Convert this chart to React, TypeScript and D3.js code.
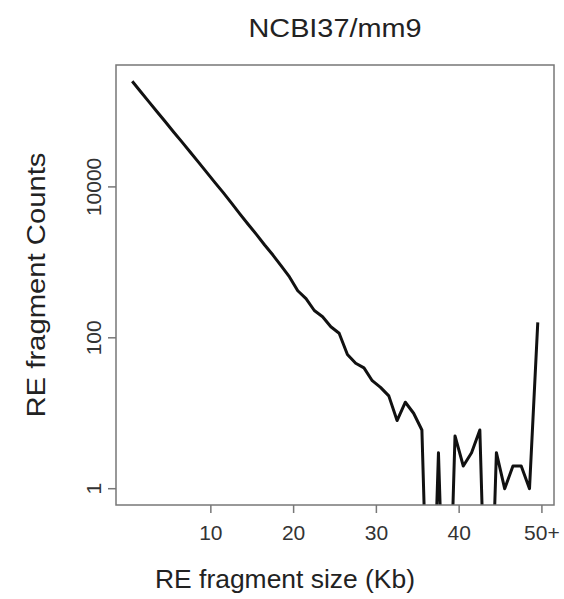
import React from 'react';
import * as d3 from 'd3';

// bin midpoints (Kb); last bin is the "50+" overflow
const sizes = d3.range(50).map(k => k + 0.5);
const counts = [
    251000, 184000, 135000, 99000, 73000, 53500, 39500, 29000, 21300, 15600,
    11400, 8400, 6100, 4400, 3200, 2350, 1700, 1250, 900, 640,
    420, 330, 230, 190, 140, 115, 60, 46, 40, 27,
    22, 17, 8, 14, 10, 6, 0, 3, 0, 5,
    2, 3, 6, 0, 3, 1, 2, 2, 1, 160,
];
const xTicks = [10, 20, 30, 40, 50];
const xTickLabels = ['10', '20', '30', '40', '50+'];
const yTicks = [1, 100, 10000];

const title = 'NCBI37/mm9';
const xTitle = 'RE fragment size (Kb)';
const yTitle = 'RE fragment Counts';

const width = 564;
const height = 599;
const box = { left: 116, right: 554, top: 65, bottom: 505 };
const font = '"Liberation Sans", Arial, Helvetica, sans-serif';

function App() {
    // R style 4% padding on both axes
    const [x0, x1] = d3.extent(sizes);
    const xPad = (x1 - x0) * 0.04;
    const xScale = d3.scaleLinear()
        .domain([x0 - xPad, x1 + xPad])
        .range([box.left, box.right]);

    const positive = counts.filter(c => c > 0);
    const lo = Math.log10(d3.min(positive));
    const hi = Math.log10(d3.max(positive));
    const yPad = (hi - lo) * 0.04;
    const yScale = d3.scaleLog()
        .domain([Math.pow(10, lo - yPad), Math.pow(10, hi + yPad)])
        .range([box.bottom, box.top]);

    // zero counts fall off the bottom of the log axis and get clipped
    const line = d3.line()
        .x((d, i) => xScale(sizes[i]))
        .y(d => yScale(d > 0 ? d : 1e-3));

    return (
        <svg width={width} height={height}
            style={{ position: 'absolute', left: 0, top: 0, background: '#fff' }}
            fontFamily={font}>
            <defs>
                <clipPath id="plotClip">
                    <rect x={box.left} y={box.top}
                        width={box.right - box.left} height={box.bottom - box.top} />
                </clipPath>
            </defs>

            <text x={(box.left + box.right) / 2} y={37} textAnchor="middle"
                fontSize={25} fill="#222" textLength={173} lengthAdjust="spacingAndGlyphs">
                {title}
            </text>

            <path d={line(counts)} fill="none" stroke="#111" strokeWidth={3}
                strokeLinejoin="round" clipPath="url(#plotClip)" />

            <rect x={box.left} y={box.top} width={box.right - box.left}
                height={box.bottom - box.top} fill="none" stroke="#777" strokeWidth={1.5} />

            {xTicks.map((t, i) => (
                <g key={t} transform={`translate(${xScale(t)},0)`}>
                    <line y1={box.bottom} y2={box.bottom + 8} stroke="#777" strokeWidth={1.5} />
                    <text y={540} textAnchor="middle" fontSize={21} fill="#333">
                        {xTickLabels[i]}
                    </text>
                </g>
            ))}

            {yTicks.map(t => (
                <g key={t} transform={`translate(0,${yScale(t)})`}>
                    <line x1={box.left - 8} x2={box.left} stroke="#777" strokeWidth={1.5} />
                    <text transform={`translate(101,0) rotate(-90)`} textAnchor="middle"
                        fontSize={21} fill="#333">
                        {d3.format('d')(t)}
                    </text>
                </g>
            ))}

            <text x={(box.left + box.right) / 2 - 50} y={588} textAnchor="middle"
                fontSize={26} fill="#222" textLength={260} lengthAdjust="spacingAndGlyphs">
                {xTitle}
            </text>
            <text transform={`translate(45,${(box.top + box.bottom) / 2}) rotate(-90)`}
                textAnchor="middle" fontSize={26} fill="#222"
                textLength={265} lengthAdjust="spacingAndGlyphs">
                {yTitle}
            </text>
        </svg>
    );
}

export default App;
